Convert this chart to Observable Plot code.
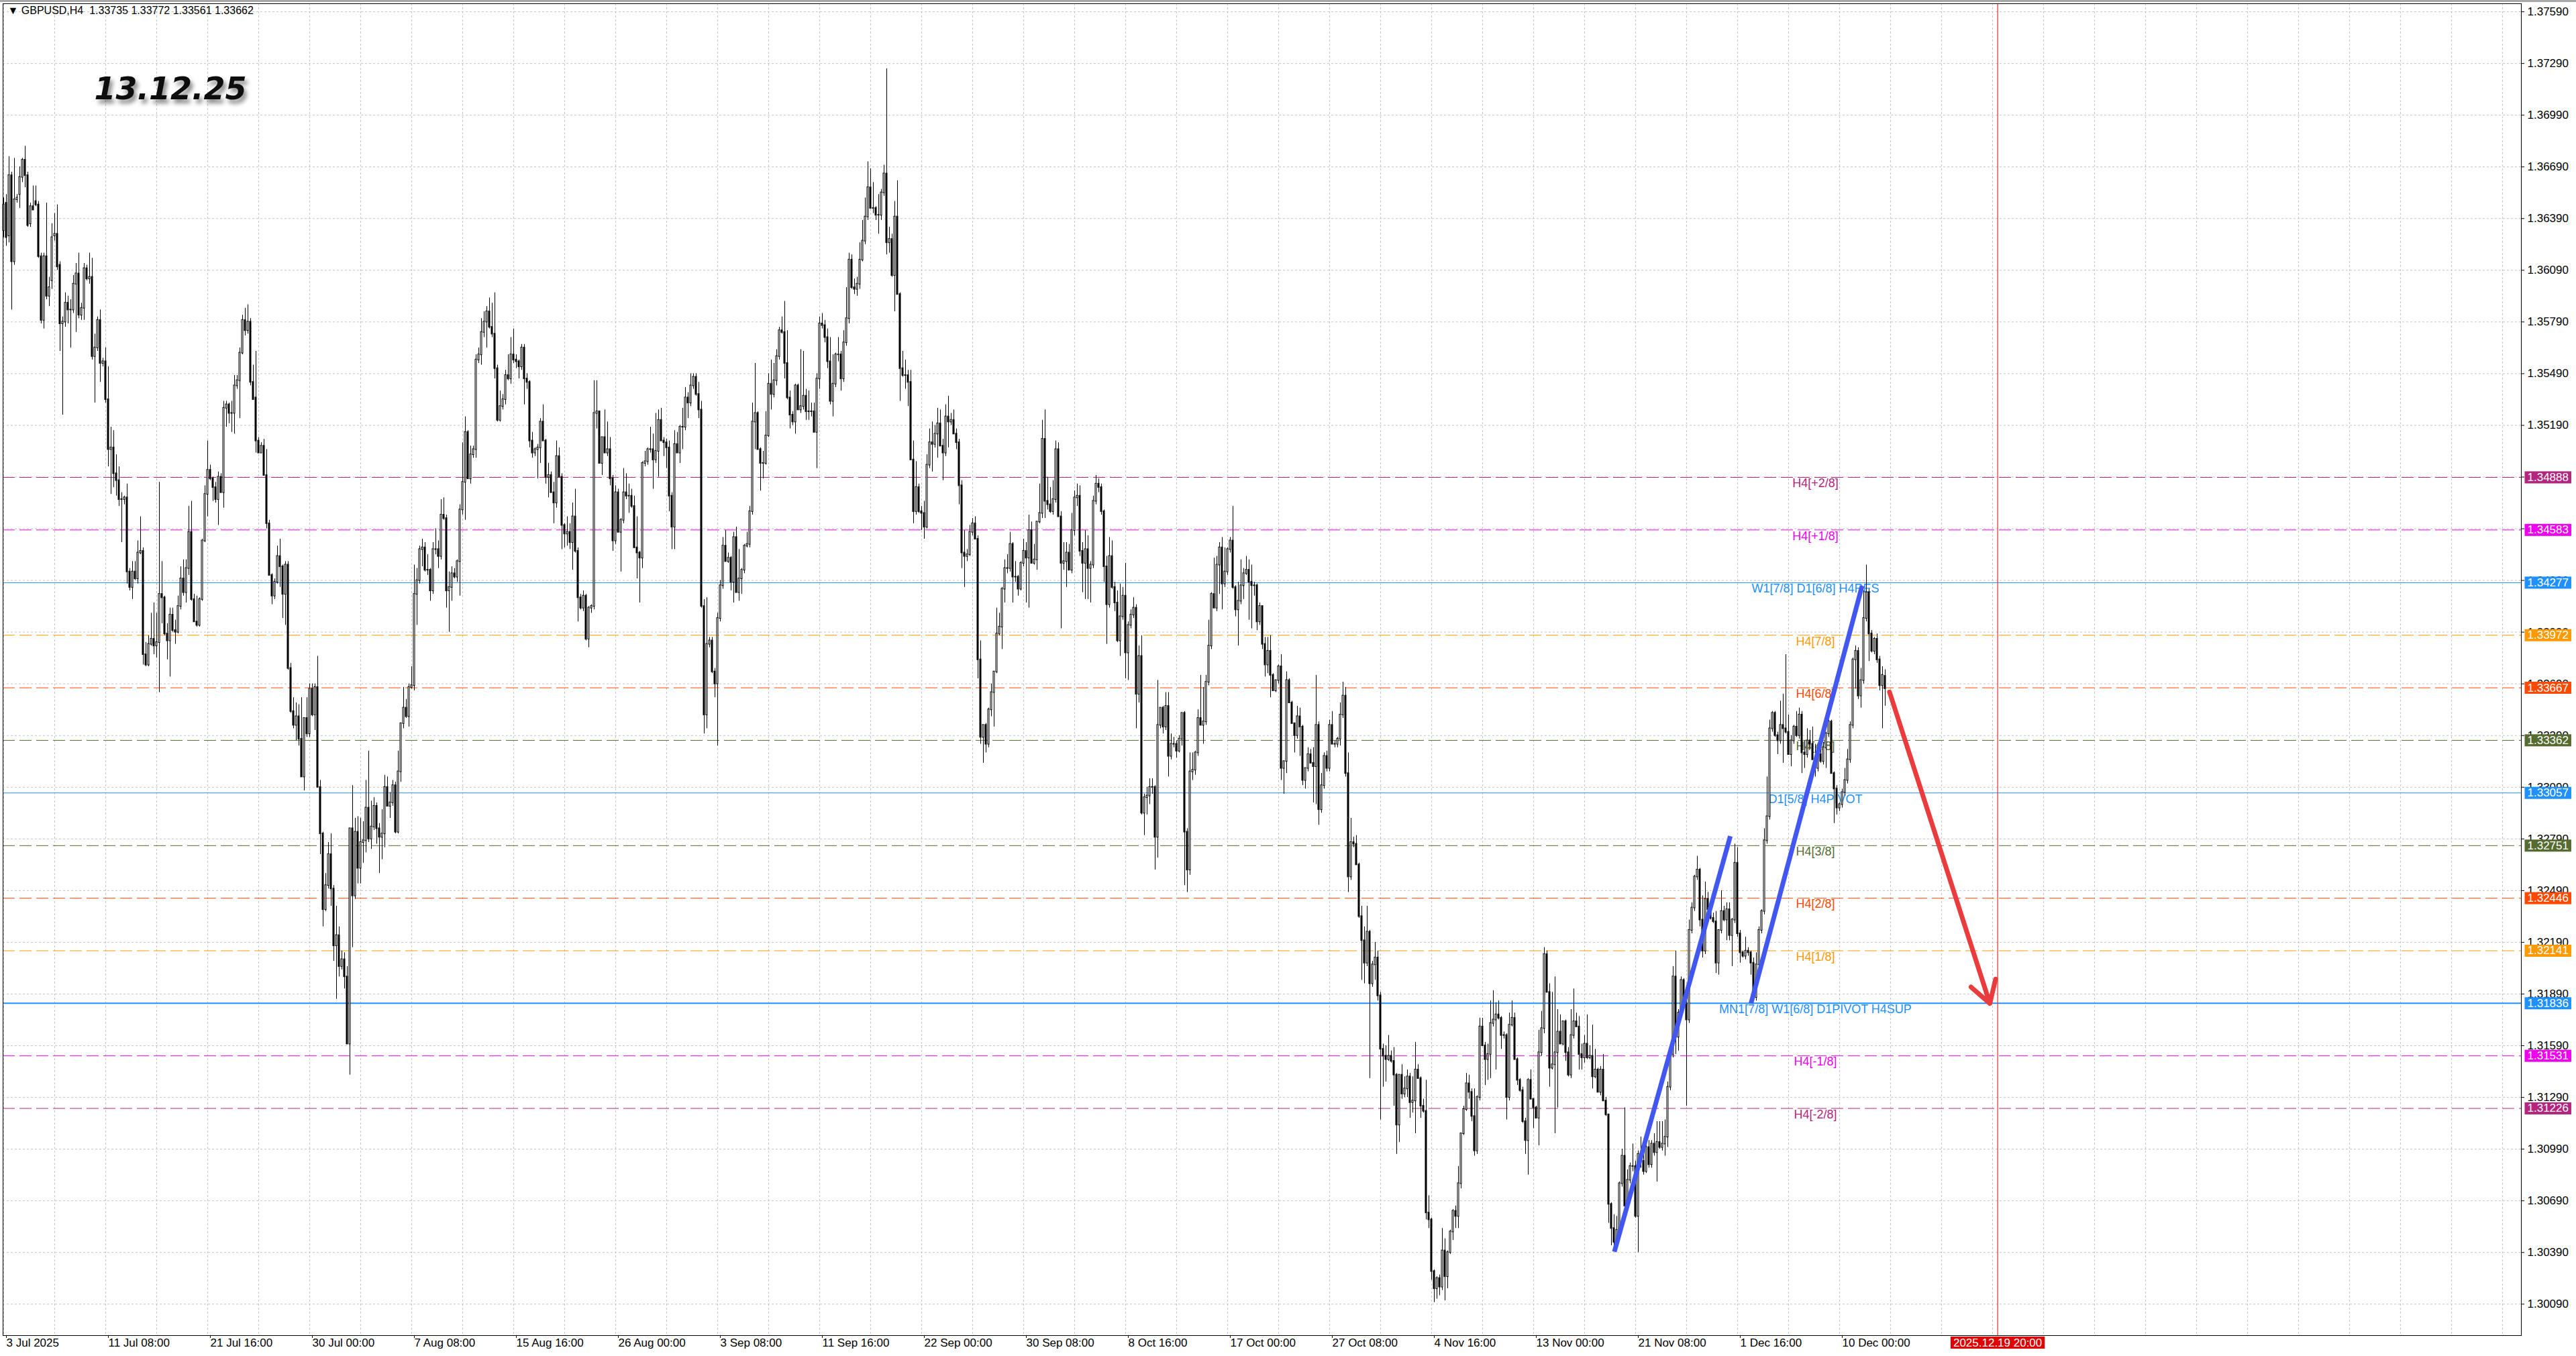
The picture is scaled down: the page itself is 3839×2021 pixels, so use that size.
<!DOCTYPE html>
<html><head><meta charset="utf-8">
<script src="https://cdn.jsdelivr.net/npm/d3@7"></script>
<script src="https://cdn.jsdelivr.net/npm/@observablehq/plot@0.6"></script>
<style>
html,body{margin:0;padding:0;background:#fff;overflow:hidden;}
#chart{position:relative;width:3839px;height:2021px;}
</style></head><body><div id="chart"></div>
<script>
// ---- GBPUSD H4 candles, values in pips above BASE: [open, high, low, close] ----
const BASE = 1.3, PIP = 0.0001;
const jul = [[632,651,628,647],[648,653,623,628],[629,675,625,664],[664,666,586,614],[614,674,612,650],[650,653,648,651],[653,669,645,663],[663,674,660,673],[673,681,657,664],[664,666,634,635],[636,648,634,646],[646,658,644,644],[649,658,646,647],[647,649,616,617],[617,619,578,580],[580,619,575,617],[617,648,592,594],[594,605,588,599],[603,636,598,628],[629,642,626,630],[630,647,609,611],[612,614,562,578],[578,582,525,579],[579,596,576,590],[590,594,578,586],[586,592,564,586],[586,606,584,601],[601,613,573,607],[607,619,581,583],[583,590,580,587],[587,613,580,610],[610,612,603,604],[604,619,601,605],[605,616,557,559],[559,572,532,564],[564,582,562,580],[580,586,544,555],[555,558,553,556],[556,564,532,534],[534,553,495,505],[505,518,479,506],[506,516,483,491],[491,502,478,487],[487,495,472,476],[476,480,451,476],[476,478,473,477],[477,485,427,434],[434,436,423,425],[425,440,418,434],[434,440,429,430],[430,452,427,445],[445,466,444,446],[446,448,380,386],[386,393,379,380],[380,397,379,392],[392,410,391,395],[395,416,386,391],[391,410,384,393],[393,486,364,421],[421,440,404,419],[419,420,397,398],[398,404,383,394],[394,413,373,409],[409,413,399,400],[400,406,392,399],[399,420,398,414],[414,437,412,430],[430,441,420,422],[422,441,416,436],[436,472,432,457],[457,475,417,418],[418,421,405,405],[405,420,402,403],[403,419,402,418],[418,453,417,452],[452,484,451,479],[479,510,466,493],[493,496,487,488],[488,489,475,483],[483,486,474,476],[476,492,461,489],[489,491,480,480],[480,533,471,529],[529,533,518,531],[531,532,520,526],[526,533,515,526],[526,548,514,542],[542,548,540,545],[545,564,523,561],[561,583,560,580],[580,587,571,574],[574,589,572,579],[579,581,542,544],[544,554,534,534],[535,562,503,510],[510,512,503,503],[503,509,503,507],[507,511,490,490],[490,505,459,462],[462,464,432,432],[432,433,415,420],[420,430,418,428],[428,449,427,443],[443,453,425,437],[437,438,407,421],[421,440,403,438],[438,440,377,378],[378,381,352,353],[353,361,343,345],[345,358,336,350],[350,357,333,337],[337,361,315,315],[315,349,307,349],[349,361,338,340],[340,369,338,366],[366,369,350,351],[351,369,342,367],[367,385,309,309],[309,313,270,282],[282,283,228,238],[238,259,237,252],[252,277,250,270],[270,282,240,250],[250,252,208,217],[217,240,186,223],[223,228,199,205]];
const aug = [[205,214,203,209],[209,213,192,199],[199,205,160,160],[160,285,142,285],[285,310,216,246],[246,291,244,283],[283,292,253,262],[262,291,253,277],[277,289,265,278],[278,313,271,297],[297,330,277,279],[279,301,273,286],[286,303,284,298],[298,300,276,285],[285,288,259,280],[280,296,267,282],[282,316,274,309],[309,315,298,298],[298,306,291,300],[300,313,298,310],[310,312,282,283],[283,330,282,318],[318,346,312,346],[346,367,343,355],[355,360,349,350],[350,369,344,367],[367,379,366,368],[368,438,365,421],[421,436,403,429],[429,449,427,447],[447,453,437,448],[448,451,434,435],[435,444,432,435],[435,436,417,423],[423,451,421,447],[447,459,444,447],[447,452,436,443],[443,476,441,467],[467,477,464,465],[465,467,413,423],[423,434,399,425],[425,437,417,433],[433,436,430,431],[431,441,428,440],[440,473,420,470],[470,509,467,486],[486,524,464,515],[515,516,488,488],[488,507,485,502],[502,507,500,505],[505,560,500,557],[557,564,555,560],[560,581,554,573],[573,585,570,579],[579,588,564,585],[585,593,575,576],[576,590,570,572],[572,596,546,552],[552,554,521,522],[522,539,521,530],[530,537,528,534],[534,551,531,548],[548,560,545,546],[546,570,543,560],[560,575,555,557],[557,560,552,556],[556,557,546,553],[553,566,551,564],[564,566,531,546],[546,549,540,544],[544,545,506,510],[510,515,500,503],[503,506,501,505],[505,508,488,506],[506,523,497,521],[521,531,510,510],[510,511,485,489],[489,497,477,490],[490,492,480,480],[480,486,462,474],[474,510,471,501],[501,506,489,489],[489,491,447,461],[461,462,448,456],[456,466,449,457],[457,462,447,451],[451,474,435,466],[466,482,445,446],[446,448,405,419],[419,421,412,413],[413,423,411,420],[420,421,394,395],[395,414,390,413],[413,415,410,414],[414,545,412,526],[526,545,517,527],[527,527,497,497],[497,512,490,512],[512,528,503,503],[503,521,501,505],[505,512,484,488],[488,490,446,452],[452,484,450,480],[480,482,457,457],[457,465,434,464],[464,494,462,480],[480,491,476,478],[478,485,468,478],[478,482,471,472],[472,478,448,448],[448,466,430,445],[445,446,416,442],[442,498,436,497],[497,504,495,498],[498,506,496,505],[505,518,503,505],[505,514,482,499],[499,526,497,504],[504,528,489,522],[522,529,510,510],[510,512,501,509],[509,511,494,506],[506,510,469,478],[478,480,447,460],[460,516,447,508],[508,515,503,503]];
const sep = [[503,519,497,518],[518,529,505,518],[518,541,516,535],[535,538,523,532],[532,549,530,542],[542,549,540,547],[547,549,536,537],[537,544,523,528],[528,533,413,414],[414,418,340,351],[351,419,343,392],[392,396,390,394],[394,396,375,376],[376,378,361,369],[369,410,333,407],[407,429,405,426],[426,454,424,449],[449,458,440,440],[440,445,439,442],[442,443,423,428],[428,457,416,454],[454,460,422,422],[422,447,417,430],[430,436,421,435],[435,450,433,449],[449,457,448,450],[450,472,448,469],[469,532,467,521],[521,555,505,526],[526,527,505,505],[505,506,481,497],[497,504,488,497],[497,527,496,513],[513,549,512,543],[543,557,528,537],[537,555,535,545],[545,563,542,559],[559,576,557,574],[574,582,572,573],[573,591,546,555],[555,574,534,535],[535,539,517,525],[525,527,519,521],[521,543,514,542],[542,543,528,528],[528,563,526,530],[530,562,528,536],[536,540,522,527],[527,539,522,527],[527,532,524,527],[527,532,515,515],[515,549,494,546],[546,582,540,578],[578,584,575,577],[577,580,567,570],[570,575,552,556],[556,570,531,533],[533,560,524,543],[543,561,541,560],[560,570,556,560],[560,562,539,546],[546,574,544,567],[567,599,565,581],[581,619,578,615],[615,618,598,599],[599,604,595,598],[598,605,594,601],[601,625,598,615],[615,638,614,626],[626,651,624,640],[640,672,638,657],[657,668,645,645],[645,660,642,645],[645,646,638,641],[641,653,630,641],[641,656,638,654],[654,670,652,665],[665,726,618,625],[625,634,619,627],[627,630,605,606],[606,649,585,640],[640,661,595,595],[595,596,533,552],[552,562,547,548],[548,557,540,548],[548,551,530,544],[544,551,499,499],[499,510,462,469],[469,498,467,483],[483,485,468,469],[469,472,458,468],[468,475,453,460],[460,502,459,496],[496,517,494,509],[509,521,492,508],[508,519,506,514],[514,529,500,520],[520,528,507,507],[507,511,487,503],[503,531,501,524],[524,536,506,521],[521,526,519,522],[522,528,514,514],[514,517,505,509],[509,511,473,484],[484,487,436,445],[445,458,425,443],[443,447,440,444],[444,461,443,457],[457,465,455,462],[462,466,453,453],[453,455,372,383],[383,394,334,338],[338,345,323,345],[345,346,329,334],[334,355,332,354],[354,369,350,364],[364,376,344,376],[376,413,375,398],[398,410,397,402],[402,425,389,424],[424,441,416,436],[436,444,433,436],[436,457,434,450],[450,451,416,431],[431,440,428,431],[431,432,420,424],[424,440,423,439],[439,453,437,446],[446,451,416,442],[442,467,413,458],[458,463,439,439]];
const oct = [[439,450,438,441],[441,463,435,463],[463,485,462,468],[468,522,465,511],[511,528,465,475],[475,489,470,473],[473,483,468,469],[469,487,467,476],[476,510,474,505],[505,509,466,466],[466,469,401,439],[439,451,435,440],[440,451,425,445],[445,450,435,435],[435,468,433,458],[458,481,455,477],[477,485,472,478],[478,484,443,446],[446,451,422,439],[439,458,418,447],[447,455,418,436],[436,440,416,438],[438,478,436,475],[475,490,473,485],[485,488,480,483],[483,485,467,469],[469,470,428,437],[437,443,392,415],[415,454,413,443],[443,452,424,425],[425,428,411,416],[416,423,393,394],[394,427,385,408],[408,425,406,420],[420,439,372,387],[387,405,371,403],[403,412,401,409],[409,419,407,413],[413,415,343,363],[363,391,358,385],[385,397,293,294],[294,305,281,303],[303,309,293,304],[304,314,299,309],[309,314,305,309],[309,310,261,280],[280,371,268,345],[345,355,343,355],[355,356,340,344],[344,364,342,356],[356,364,315,327],[327,340,325,334],[334,338,332,334],[334,336,326,330],[330,339,329,337],[337,352,333,352],[352,353,252,283],[283,285,248,261],[261,329,258,318],[318,329,313,319],[319,330,316,329],[329,354,327,349],[349,374,345,345],[345,367,334,347],[347,374,345,370],[370,406,368,391],[391,422,389,421],[421,442,413,413],[413,443,411,438],[438,451,421,448],[448,454,412,427],[427,448,425,434],[434,448,432,447],[447,454,445,452],[452,472,424,425],[425,426,408,412],[412,428,391,417],[417,441,415,426],[426,436,418,433],[433,443,432,435],[435,441,406,428],[428,438,401,426],[426,428,420,426],[426,427,400,405],[405,416,403,414],[414,414,389,392],[392,396,373,380],[380,396,375,388],[388,397,361,374],[374,375,365,365],[365,371,364,371],[371,380,369,379],[379,386,313,320],[320,324,305,324],[324,376,317,371],[371,372,358,358],[358,359,346,346],[346,346,329,339],[339,356,337,350],[350,355,327,344],[344,345,310,313],[313,320,308,320],[320,332,318,328],[328,331,323,323],[323,332,300,321],[321,374,299,345],[345,347,287,296],[296,317,294,310],[310,329,308,327],[327,330,318,320],[320,348,318,345],[345,353,334,334],[334,336,332,334],[334,338,332,337],[337,358,333,351],[351,370,349,362],[362,367,315,317],[317,329,248,257],[257,291,255,277],[277,280,274,276],[276,281,264,264],[264,265,233,234],[234,240,197,220],[220,228,195,207],[207,240,205,225],[225,226,140,195],[195,208,193,206],[206,219,197,210],[210,214,185,188],[188,190,116,157],[157,160,135,153],[153,159,138,151],[151,165,150,153],[153,156,149,150],[150,158,124,142],[142,143,96,113],[113,142,103,142],[142,148,128,131]];
const nov = [[131,141,129,134],[134,145,129,141],[141,143,117,126],[126,141,120,127],[127,161,108,145],[145,148,140,140],[140,141,117,124],[124,128,120,121],[121,139,58,62],[62,72,53,58],[58,59,23,28],[28,29,10,18],[18,25,12,24],[24,26,14,19],[19,53,17,40],[40,47,11,25],[25,40,18,39],[39,52,38,51],[51,64,46,63],[63,66,53,60],[60,89,53,79],[79,108,76,108],[108,124,107,122],[122,143,121,137],[137,142,128,132],[132,134,115,118],[118,134,95,98],[98,130,96,129],[129,175,127,170],[170,175,159,159],[159,161,136,151],[151,160,139,154],[154,185,140,172],[172,191,170,174],[174,184,145,177],[177,185,174,175],[175,176,157,165],[165,167,163,165],[165,166,116,129],[129,178,127,171],[171,185,170,175],[175,178,151,151],[151,152,136,139],[139,140,132,133],[133,135,114,115],[115,117,96,104],[104,140,84,139],[139,145,128,128],[128,128,111,123],[123,124,117,117],[117,168,101,155],[155,179,153,169],[169,216,166,212],[212,214,190,190],[190,195,135,146],[146,190,145,148],[148,199,108,155],[155,180,123,167],[167,177,160,160],[160,173,159,173],[173,174,150,155],[155,158,141,142],[142,180,140,165],[165,192,163,173],[173,178,170,170],[170,176,145,154],[154,160,145,152],[152,165,149,160],[160,177,151,152],[152,159,151,153],[153,171,134,141],[141,157,140,145],[145,146,132,132],[132,147,130,145],[145,154,127,127],[127,129,118,119],[119,119,56,67],[67,68,43,53],[53,61,40,45],[45,60,40,52],[52,80,50,79],[79,99,77,95],[95,123,64,66],[66,87,64,81],[81,91,79,89],[89,102,86,89],[89,92,59,60],[60,98,39,96],[96,106,88,92],[92,100,84,86],[86,104,85,100],[100,104,88,90],[90,104,88,102],[102,108,95,97],[97,115,80,103],[103,115,99,100],[100,115,98,102],[102,116,95,106],[106,138,100,135],[135,156,133,154],[154,205,152,199],[199,214,154,164],[164,180,156,178],[178,199,175,197],[197,198,183,183],[183,194,124,174],[174,232,172,226],[226,242,224,239],[239,258,237,257],[257,269,255,261],[261,262,228,232],[232,246,210,214],[214,254,212,244],[244,248,236,238],[238,242,232,233],[233,236,230,231],[231,237,201,207],[207,226,200,226],[226,249,224,237],[237,240,231,232]];
const dec = [[232,242,220,238],[238,242,220,223],[223,233,205,232],[232,276,230,265],[265,274,222,224],[224,226,207,213],[213,214,210,211],[211,222,209,214],[214,216,211,213],[213,214,200,207],[207,210,186,187],[187,213,185,206],[206,228,205,226],[226,238,224,237],[237,285,235,278],[278,315,276,292],[292,348,290,343],[343,353,341,352],[352,353,338,339],[339,341,328,336],[336,359,334,345],[345,363,323,343],[343,386,340,341],[341,351,328,328],[328,339,321,336],[336,345,334,344],[344,353,338,339],[339,355,337,351],[351,353,317,329],[329,336,320,328],[328,343,326,336],[336,342,331,334],[334,344,325,325],[325,334,315,320],[320,331,318,328],[328,331,323,324],[324,335,322,332],[332,341,320,340],[340,348,338,347],[347,348,317,317],[317,318,288,308],[308,310,293,297],[297,300,295,299],[299,308,297,306],[306,320,304,313],[313,331,311,325],[325,347,323,345],[345,384,343,383],[383,391,366,388],[388,390,360,362],[362,378,355,371],[371,423,369,407],[407,438,405,422],[422,424,382,398],[398,400,387,388],[388,396,386,395],[395,398,381,383],[383,385,365,368],[368,379,343,374],[373.5,377.2,356.1,366.2]];

// ---- axes ----
const tickBars = [0,38,76,114,152,190,228,266,304,342,380,418,456,494,532,570,608,646,684];
const tickLabels = ["3 Jul 2025","11 Jul 08:00","21 Jul 16:00","30 Jul 00:00","7 Aug 08:00","15 Aug 16:00","26 Aug 00:00","3 Sep 08:00","11 Sep 16:00","22 Sep 00:00","30 Sep 08:00","8 Oct 16:00","17 Oct 00:00","27 Oct 08:00","4 Nov 16:00","13 Nov 00:00","21 Nov 08:00","1 Dec 16:00","10 Dec 00:00"];
const priceTicks = [1.30090,1.30390,1.30690,1.30990,1.31290,1.31590,1.31890,1.32190,1.32490,1.32790,1.33090,1.33390,1.33690,1.33990,1.34290,1.34590,1.34890,1.35190,1.35490,1.35790,1.36090,1.36390,1.36690,1.36990,1.37290,1.37590];

// ---- Murrey / pivot levels ----
const levelPrices = [1.34888,1.34583,1.34277,1.33972,1.33667,1.33362,1.33057,1.32751,1.32446,1.32141,1.31836,1.31531,1.31226];
const levelNames = ["H4[+2/8]","H4[+1/8]","W1[7/8] D1[6/8] H4RES","H4[7/8]","H4[6/8]","H4[4/8]","D1[5/8] H4PIVOT","H4[3/8]","H4[2/8]","H4[1/8]","MN1[7/8] W1[6/8] D1PIVOT H4SUP","H4[-1/8]","H4[-2/8]"];
const levelColors = ["#b3257e","#ee00ee","#1e90ff","#ff9900","#ff4800","#556b2f","#1e90ff","#556b2f","#ff4800","#ff9900","#1e90ff","#ee00ee","#b3257e"];
const levelStyles = ["dash","dash","solid","dash","dash","dash","solid","dash","dash","dash","solid","dash","dash"];
const levelWidths = [1,1,1,1,1,1,1,1,1,1,2,1,1];
const levelLabelBar = 675;

// ---- drawn objects ----
const trendFromBar = [600.1, 651.0], trendFromPrice = [1.30394, 1.31835];
const trendToBar = [643.3, 692.4], trendToPrice = [1.32806, 1.34259];
const arrowFromBar = [702.6], arrowFromPrice = [1.33643], arrowToBar = [740.0], arrowToPrice = [1.31835];
const futureBar = [742.9], futureLabel = ["2025.12.19 20:00"];
const headerText = ["\u25BC GBPUSD,H4\u00A0\u00A01.33735 1.33772 1.33561 1.33662"];
const dateStamp = ["13.12.25"];

// ---- build tables ----
const bars = [jul, aug, sep, oct, nov, dec].flat().map((r, i) => ({
  i, o: BASE + r[0]*PIP, h: BASE + r[1]*PIP, l: BASE + r[2]*PIP, c: BASE + r[3]*PIP
}));
const levels = levelPrices.map((price, k) => ({price, name: levelNames[k], color: levelColors[k], dashed: levelStyles[k] === "dash", width: levelWidths[k]}));
const trends = trendFromBar.map((b, k) => ({x1: b, y1: trendFromPrice[k], x2: trendToBar[k], y2: trendToPrice[k]}));
const arrows = arrowFromBar.map((b, k) => ({x1: b, y1: arrowFromPrice[k], x2: arrowToBar[k], y2: arrowToPrice[k]}));
const gridBars = d3.range(0, 938, 19);
const FONT = "'Liberation Sans', Arial, sans-serif";

const chart = Plot.plot({
  width: 3839, height: 2021,
  marginLeft: 4, marginRight: 82, marginTop: 5, marginBottom: 31,
  x: {domain: [-0.25, 938.0], axis: null},
  y: {domain: [1.29908, 1.37637], axis: null},
  color: {type: "identity"},
  style: {fontFamily: FONT, fontSize: "17px", background: "#fff", color: "#000"},
  marks: [
    Plot.gridY(priceTicks, {stroke: "#c4c4c4", strokeOpacity: 1, strokeDasharray: "3,3"}),
    Plot.gridX(gridBars, {stroke: "#c4c4c4", strokeOpacity: 1, strokeDasharray: "3,3"}),
    Plot.ruleY(levels.filter(d => d.dashed), {y: "price", stroke: "color", strokeWidth: "width", strokeDasharray: "18,7"}),
    Plot.ruleY(levels.filter(d => !d.dashed), {y: "price", stroke: "color", strokeWidth: "width"}),
    Plot.text(levels, {x: () => levelLabelBar, y: "price", text: "name", fill: "color", lineAnchor: "top", dy: 2, fontSize: 18}),
    Plot.ruleX(futureBar, {x: d => d, stroke: "#e23030", strokeWidth: 1.2}),
    Plot.ruleX(bars, {x: "i", y1: "l", y2: "h", stroke: "#000", strokeWidth: 1}),
    Plot.rect(bars, {x1: d => d.i - 0.25, x2: d => d.i + 0.25, y1: "o", y2: "c",
      fill: d => d.c >= d.o ? "#fff" : "#000", stroke: "#000", strokeWidth: 1, insetTop: -0.5, insetBottom: -0.5}),
    Plot.link(trends, {x1: "x1", y1: "y1", x2: "x2", y2: "y2", stroke: "#4157f0", strokeWidth: 7}),
    Plot.arrow(arrows, {x1: "x1", y1: "y1", x2: "x2", y2: "y2", stroke: "#ea3c3c", strokeWidth: 7, headLength: 8, headAngle: 62}),
    Plot.frame({stroke: "#000", strokeWidth: 1}),
    Plot.axisY(priceTicks, {anchor: "right", tickFormat: d => d.toFixed(5), tickSize: 4, tickPadding: 5, fontSize: 17, textAnchor: "start"}),
    Plot.axisX(tickBars, {anchor: "bottom", tickFormat: d => tickLabels[tickBars.indexOf(d)], tickSize: 4, tickPadding: 0, fontSize: 17, textAnchor: "start", dx: 4}),
    Plot.text(levels, {y: "price", text: d => d.price.toFixed(5), frameAnchor: "right", dx: 9, textAnchor: "start", fill: "#fff", fontSize: 17}),
    Plot.text(futureBar, {x: d => d, text: () => futureLabel[0], frameAnchor: "bottom", lineAnchor: "top", dy: 4, fill: "#fff", fontSize: 17}),
    Plot.text(headerText, {text: d => d, frameAnchor: "top-left", dx: 7, dy: 4, lineAnchor: "top", textAnchor: "start", fontSize: 16, fill: "#000"}),
    Plot.text(dateStamp, {text: d => d, frameAnchor: "top-left", dx: 136, dy: 110, lineAnchor: "top", textAnchor: "start",
      fontSize: 46, fontWeight: "bold", fontStyle: "italic", fontFamily: "'DejaVu Sans', sans-serif", fill: "#111"})
  ]
});
document.getElementById("chart").append(chart);

// ---- post: coloured label boxes, shadow, window chrome ----
const svgNS = "http://www.w3.org/2000/svg";
const boxColor = new Map(levels.map(d => [d.price.toFixed(5), d.color]));
boxColor.set(futureLabel[0], "#e00000");
for (const t of Array.from(chart.querySelectorAll("text"))) {
  const col = boxColor.get(t.textContent);
  if (!col) continue;
  const b = t.getBBox();
  const r = document.createElementNS(svgNS, "rect");
  r.setAttribute("x", b.x - 4); r.setAttribute("y", b.y + 0.5);
  r.setAttribute("width", b.width + 8); r.setAttribute("height", b.height - 1);
  r.setAttribute("fill", col);
  const tr = t.getAttribute("transform"); if (tr) r.setAttribute("transform", tr);
  t.parentNode.insertBefore(r, t);
}
const svgDefs = document.createElementNS(svgNS, "defs");
svgDefs.innerHTML = '<filter id="dshadow" x="-20%" y="-40%" width="150%" height="200%"><feDropShadow dx="4" dy="6" stdDeviation="3" flood-color="#000" flood-opacity="0.45"/></filter>';
chart.prepend(svgDefs);
for (const t of Array.from(chart.querySelectorAll("text"))) {
  if (t.textContent === dateStamp[0]) t.setAttribute("filter", "url(#dshadow)");
}
const topStrip = document.createElementNS(svgNS, "rect");
topStrip.setAttribute("x", 0); topStrip.setAttribute("y", 0); topStrip.setAttribute("width", 3839); topStrip.setAttribute("height", 3);
topStrip.setAttribute("fill", "#a8a8a8");
chart.append(topStrip);
</script>
</body></html>
